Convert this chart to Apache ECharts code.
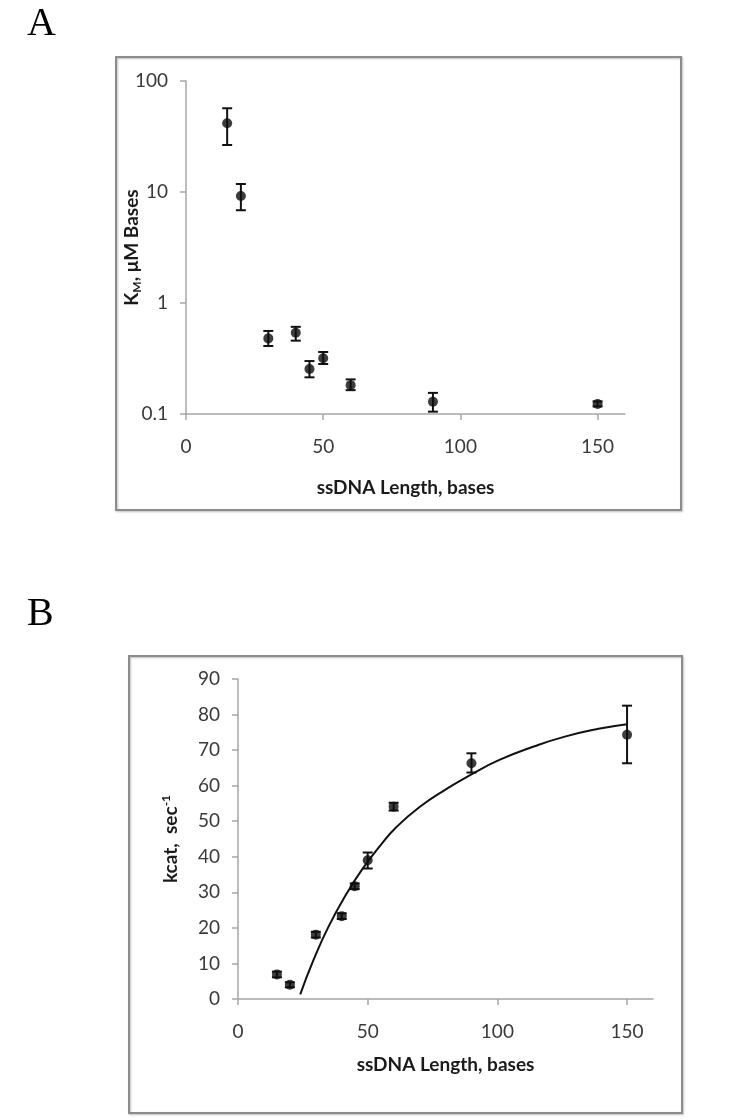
<!DOCTYPE html>
<html>
<head>
<meta charset="utf-8">
<script src="https://cdn.jsdelivr.net/npm/echarts@6/dist/echarts.min.js"></script>
<style>
  html, body { margin: 0; padding: 0; background: #fff; }
  #chart { width: 750px; height: 1120px; }
</style>
</head>
<body>
<div id="chart"></div>
<script>
// ssDNA length (bases)
const lengths = [15, 20, 30, 40, 45, 50, 60, 90, 150];

// panel A: KM, uM bases (log scale)
const kmValues = [41.6, 9.2, 0.48, 0.54, 0.254, 0.318, 0.182, 0.129, 0.123];
const kmLow    = [26.5, 6.85, 0.41, 0.458, 0.214, 0.282, 0.164, 0.105, 0.117];
const kmHigh   = [56.8, 11.8, 0.56, 0.61, 0.30, 0.362, 0.205, 0.155, 0.13];

// panel B: kcat, sec-1
const kcatValues = [6.9, 4.0, 18.1, 23.3, 31.7, 39.0, 54.1, 66.3, 74.3];
const kcatLow    = [6.1, 3.3, 17.3, 22.5, 30.9, 36.7, 53.0, 63.7, 66.3];
const kcatHigh   = [7.7, 4.7, 18.9, 24.1, 32.5, 41.2, 55.2, 69.1, 82.5];

// fitted curve
const fitX = [24, 29, 35, 42, 48, 55, 61, 70, 80, 90, 101, 114, 126, 139, 150];
const fitY = [1.3, 10.8, 20.5, 29.8, 36.6, 43.3, 48.3, 54.0, 58.9, 63.2, 67.3, 71.0, 73.8, 76.0, 77.3];

const xTicks = [0, 50, 100, 150];

const axisGray = '#a6a6a6';
const labelColor = '#3a3a3a';
const font = 'Lato';

const chart = echarts.init(document.getElementById('chart'));

function errorBar(params, api) {
  const x = api.value(0);
  const lo = api.coord([x, api.value(1)]);
  const hi = api.coord([x, api.value(2)]);
  const w = 5;
  const style = { stroke: '#111', lineWidth: 2 };
  return {
    type: 'group',
    children: [
      { type: 'line', shape: { x1: lo[0], y1: lo[1], x2: hi[0], y2: hi[1] }, style: style },
      { type: 'line', shape: { x1: lo[0] - w, y1: lo[1], x2: lo[0] + w, y2: lo[1] }, style: style },
      { type: 'line', shape: { x1: hi[0] - w, y1: hi[1], x2: hi[0] + w, y2: hi[1] }, style: style }
    ]
  };
}

function xAxisCfg(gridIndex, nameGap) {
  return {
    type: 'value',
    gridIndex: gridIndex,
    min: 0,
    max: 160,
    interval: 50,
    name: 'ssDNA Length, bases',
    nameLocation: 'middle',
    nameGap: nameGap,
    nameMoveOverlap: false,
    nameTextStyle: { fontFamily: font, fontSize: 19, fontWeight: 'bold', color: '#1a1a1a' },
    splitLine: { show: false },
    axisLine: { onZero: false, lineStyle: { color: axisGray, width: 1.5 } },
    axisTick: { customValues: xTicks, length: 6, lineStyle: { color: axisGray, width: 1.5 } },
    axisLabel: { customValues: xTicks, margin: 23, fontFamily: font, fontSize: 19, color: labelColor }
  };
}

const option = {
  animation: false,
  backgroundColor: '#fff',
  graphic: [
    { type: 'rect', shape: { x: 116, y: 57, width: 565, height: 453 },
      style: { fill: 'none', stroke: '#8c8c8c', lineWidth: 2, shadowBlur: 2, shadowColor: 'rgba(0,0,0,0.25)', shadowOffsetX: 1, shadowOffsetY: 1 } },
    { type: 'rect', shape: { x: 129, y: 656, width: 553, height: 457 },
      style: { fill: 'none', stroke: '#8c8c8c', lineWidth: 2, shadowBlur: 2, shadowColor: 'rgba(0,0,0,0.25)', shadowOffsetX: 1, shadowOffsetY: 1 } },
    { type: 'text', x: 27, y: 24, style: { text: 'A', font: '40px "Liberation Serif"', fill: '#000', verticalAlign: 'middle' } },
    { type: 'text', x: 27, y: 614, style: { text: 'B', font: '40px "Liberation Serif"', fill: '#000', verticalAlign: 'middle' } }
  ],
  grid: [
    { left: 186, right: 125, top: 81, height: 333 },
    { left: 238, right: 97, top: 679, height: 320 }
  ],
  xAxis: [xAxisCfg(0, 64), xAxisCfg(1, 56)],
  yAxis: [
    {
      type: 'log',
      gridIndex: 0,
      logBase: 10,
      min: 0.1,
      max: 100,
      name: '{a|K}{s|M}{a|, μM Bases}',
      nameLocation: 'middle',
      nameGap: 43,
      nameMoveOverlap: false,
      nameTextStyle: {
        rich: {
          a: { fontFamily: font, fontSize: 19, fontWeight: 'bold', color: '#1a1a1a', lineHeight: 22 },
          s: { fontFamily: font, fontSize: 12, fontWeight: 'bold', color: '#1a1a1a', lineHeight: 22, verticalAlign: 'bottom' }
        }
      },
      splitLine: { show: false },
      axisLine: { show: true, lineStyle: { color: axisGray, width: 1.5 } },
      axisTick: { show: true, length: 6, lineStyle: { color: axisGray, width: 1.5 } },
      axisLabel: { margin: 18, fontFamily: font, fontSize: 19, color: labelColor }
    },
    {
      type: 'value',
      gridIndex: 1,
      min: 0,
      max: 90,
      interval: 10,
      name: '{a|kcat,  sec}{p|-1}',
      nameLocation: 'middle',
      nameGap: 56,
      nameMoveOverlap: false,
      nameTextStyle: {
        rich: {
          a: { fontFamily: font, fontSize: 19, fontWeight: 'bold', color: '#1a1a1a', lineHeight: 22 },
          p: { fontFamily: font, fontSize: 12, fontWeight: 'bold', color: '#1a1a1a', lineHeight: 22, verticalAlign: 'top' }
        }
      },
      splitLine: { show: false },
      axisLine: { show: true, lineStyle: { color: axisGray, width: 1.5 } },
      axisTick: { show: true, length: 6, lineStyle: { color: axisGray, width: 1.5 } },
      axisLabel: { margin: 18, fontFamily: font, fontSize: 19, color: labelColor }
    }
  ],
  series: [
    {
      type: 'custom',
      xAxisIndex: 0,
      yAxisIndex: 0,
      renderItem: errorBar,
      encode: { x: 0, y: [1, 2] },
      data: lengths.map((x, i) => [x, kmLow[i], kmHigh[i]]),
      z: 3
    },
    {
      type: 'scatter',
      xAxisIndex: 0,
      yAxisIndex: 0,
      symbol: 'circle',
      symbolSize: 10,
      itemStyle: { color: '#0d0d0d' },
      data: lengths.map((x, i) => [x, kmValues[i]]),
      z: 4
    },
    {
      type: 'line',
      xAxisIndex: 1,
      yAxisIndex: 1,
      smooth: true,
      showSymbol: false,
      lineStyle: { color: '#111', width: 2 },
      data: fitX.map((x, i) => [x, fitY[i]]),
      z: 2
    },
    {
      type: 'custom',
      xAxisIndex: 1,
      yAxisIndex: 1,
      renderItem: errorBar,
      encode: { x: 0, y: [1, 2] },
      data: lengths.map((x, i) => [x, kcatLow[i], kcatHigh[i]]),
      z: 3
    },
    {
      type: 'scatter',
      xAxisIndex: 1,
      yAxisIndex: 1,
      symbol: 'circle',
      symbolSize: 10,
      itemStyle: { color: '#0d0d0d' },
      data: lengths.map((x, i) => [x, kcatValues[i]]),
      z: 4
    }
  ]
};

chart.setOption(option);
</script>
</body>
</html>
